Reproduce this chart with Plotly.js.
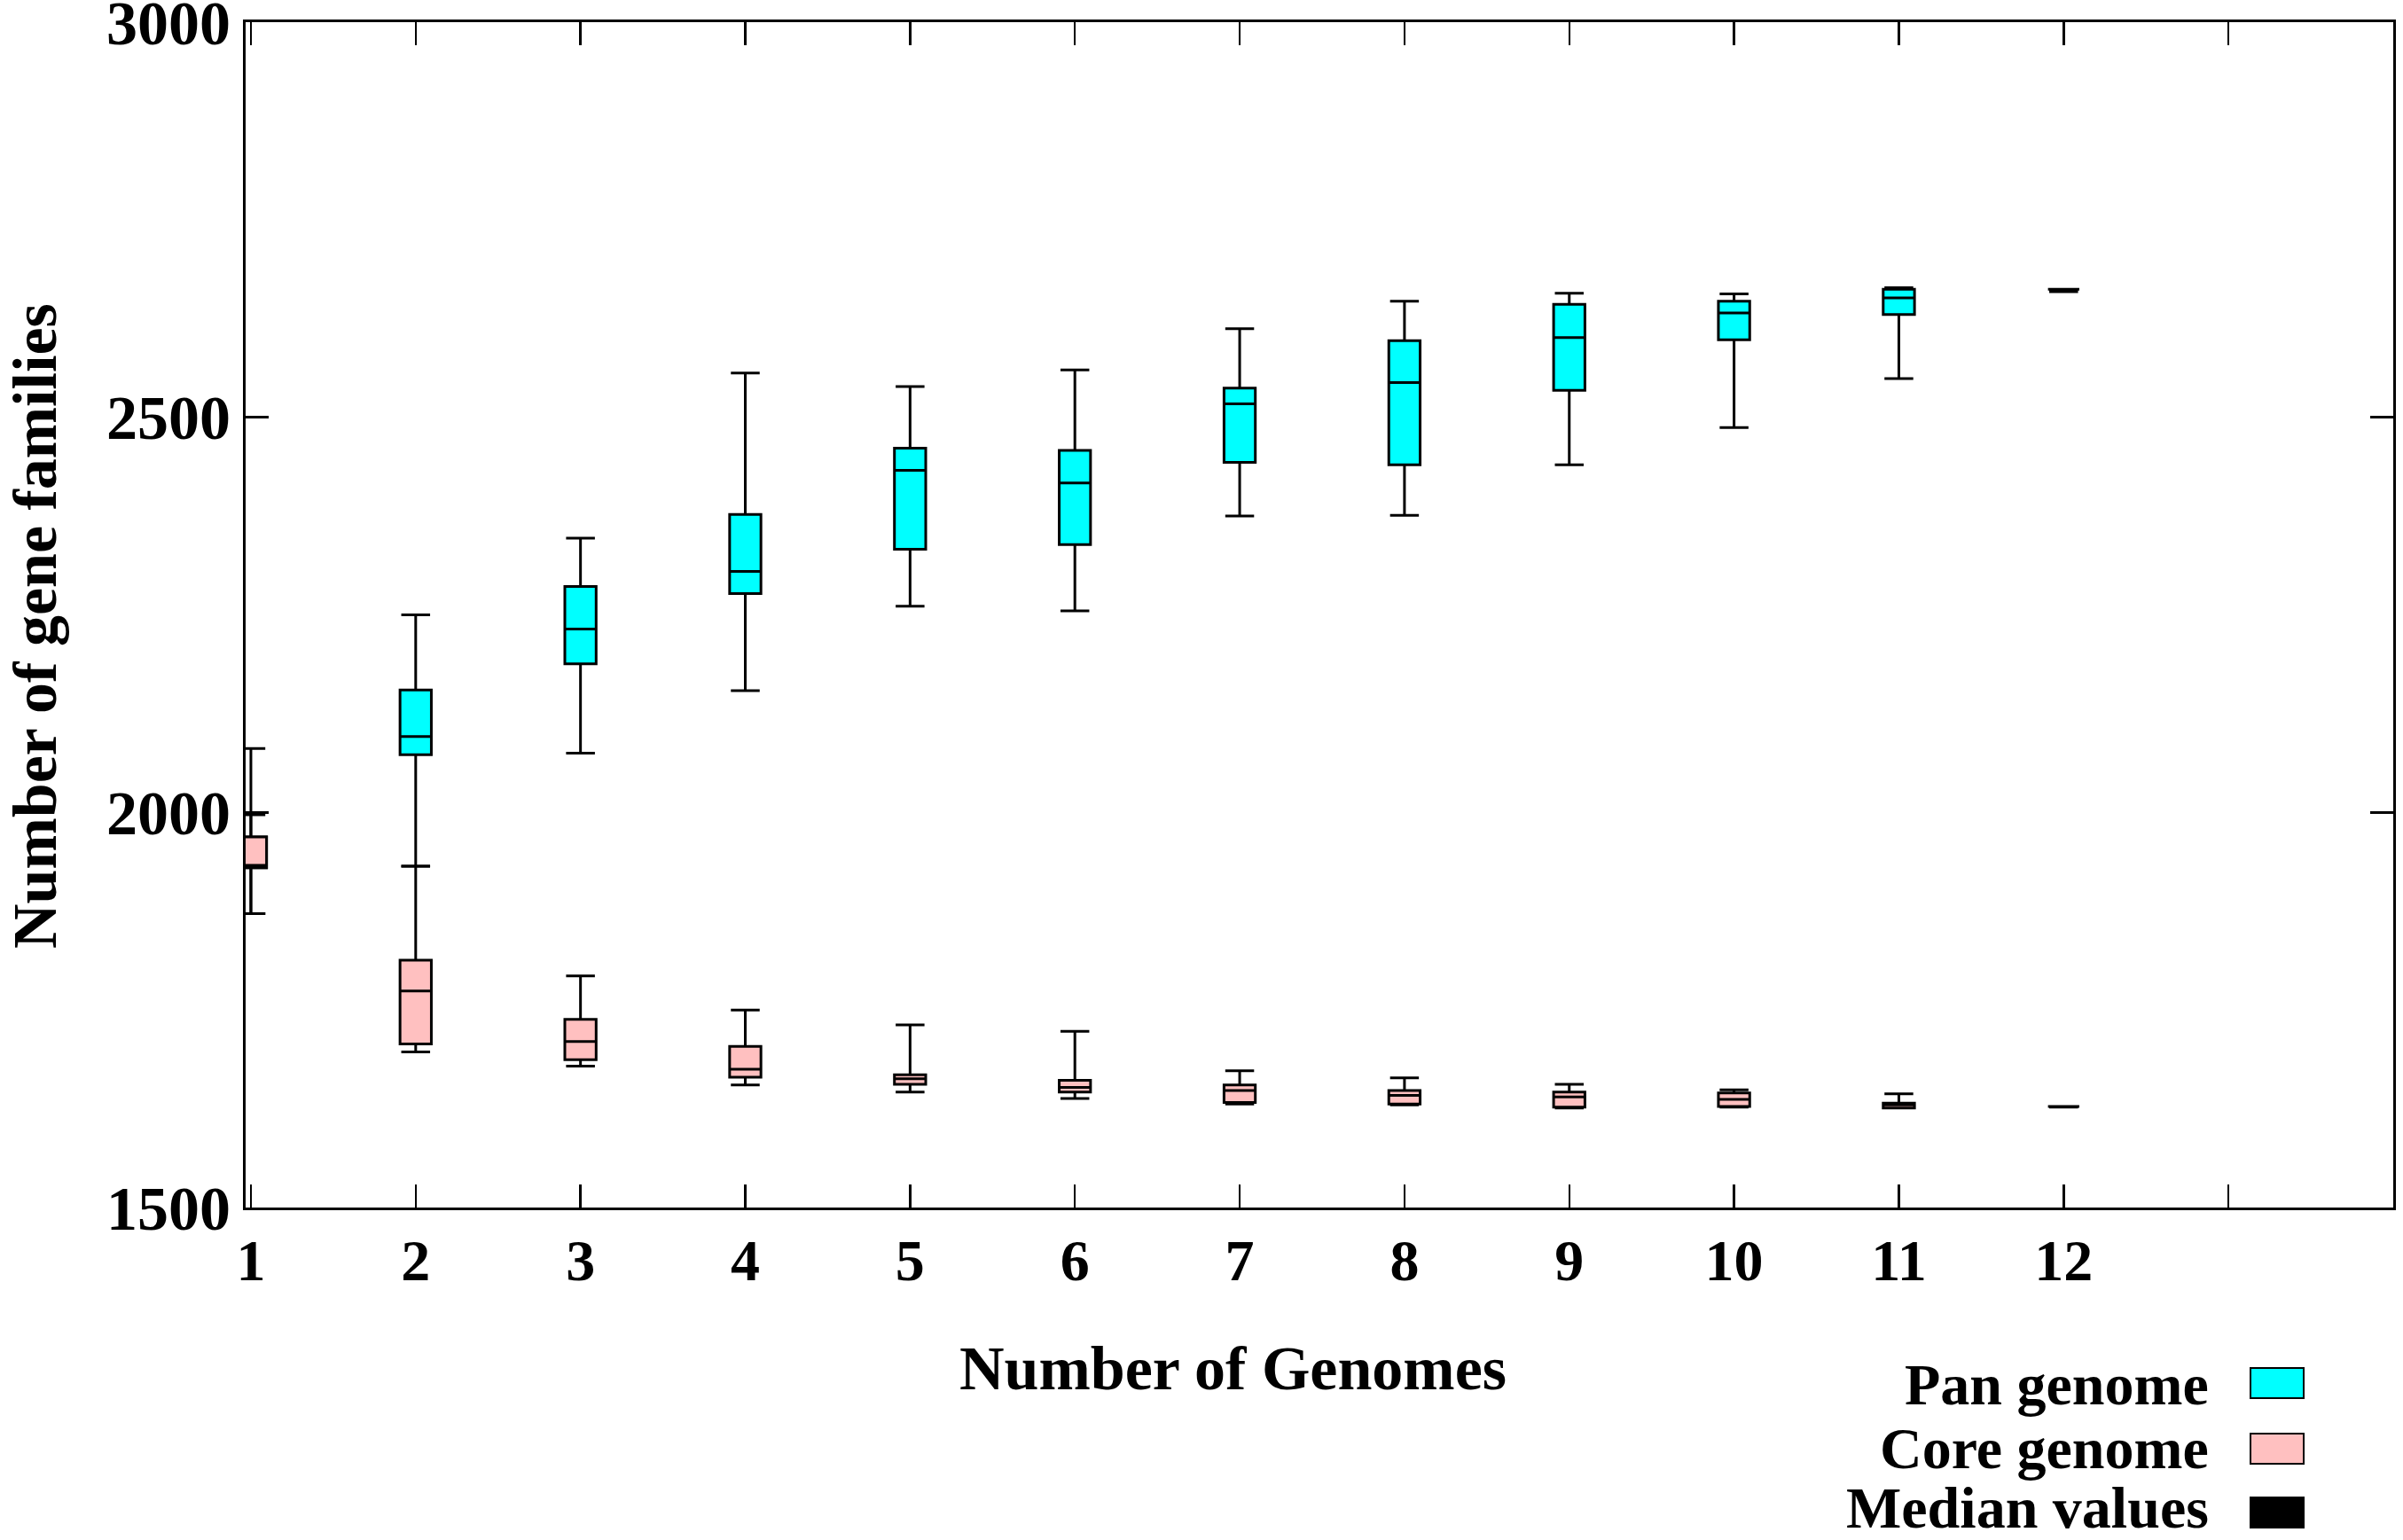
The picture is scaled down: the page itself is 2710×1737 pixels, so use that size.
<!DOCTYPE html>
<html>
<head>
<meta charset="utf-8">
<script src="https://cdn.plot.ly/plotly-3.0.1.min.js"></script>
<style>html,body{margin:0;padding:0;background:#fff;}#chart{width:2710px;height:1737px;}</style>
</head>
<body>
<div id="chart"></div>
<script>
// ---- data ----
const genomes = [1,2,3,4,5,6,7,8,9,10,11,12];

const panQ1     = [1930, 2073, 2188, 2277, 2333, 2339, 2443, 2440, 2534, 2598, 2630, 2662];
const panMedian = [1933, 2096, 2232, 2305, 2433, 2417, 2517, 2544, 2601, 2632, 2651, 2662];
const panQ3     = [1969, 2155, 2286, 2377, 2461, 2458, 2537, 2597, 2643, 2647, 2662, 2662];
const panLow    = [1872, 1932, 2075, 2154, 2261, 2255, 2375, 2376, 2440, 2487, 2549, 2659];
const panHigh   = [2081, 2250, 2347, 2556, 2539, 2560, 2612, 2647, 2657, 2656, 2664, 2662];

const coreQ1     = [1930, 1707, 1687, 1665, 1656, 1646, 1633, 1631, 1627, 1628, 1626, 1628];
const coreMedian = [1933, 1774, 1710, 1675, 1663, 1652, 1648, 1642, 1640, 1637, 1630, 1628];
const coreQ3     = [1969, 1813, 1738, 1704, 1668, 1661, 1655, 1648, 1646, 1645, 1632, 1628];
const coreLow    = [1872, 1697, 1679, 1655, 1646, 1638, 1631, 1630, 1626, 1627, 1626, 1627];
const coreHigh   = [1997, 1932, 1793, 1750, 1731, 1723, 1673, 1664, 1656, 1649, 1644, 1628];

const xTickVals  = [1,2,3,4,5,6,7,8,9,10,11,12,13];
const xTickText  = ['1','2','3','4','5','6','7','8','9','10','11','12',''];
const yTickVals  = [1500, 2000, 2500, 3000];
const yTickText  = ['1500', '2000', '2500', '3000'];

const xTitle = 'Number of Genomes';
const yTitle = 'Number of gene families';
const legendNames  = ['Pan genome', 'Core genome', 'Median values'];
const legendColors = ['#00FFFF', '#FFC0C0', '#000000'];

// ---- chart ----
const FONT = 'Liberation Serif, Times New Roman, serif';
const boxLine = {color: '#000000', width: 3};

const traces = [
  {
    type: 'box', name: 'Pan genome', x: genomes,
    q1: panQ1, median: panMedian, q3: panQ3,
    lowerfence: panLow, upperfence: panHigh,
    fillcolor: legendColors[0], line: boxLine,
    width: 0.19, whiskerwidth: 0.92, boxpoints: false,
    hoverinfo: 'skip', showlegend: false
  },
  {
    type: 'box', name: 'Core genome', x: genomes,
    q1: coreQ1, median: coreMedian, q3: coreQ3,
    lowerfence: coreLow, upperfence: coreHigh,
    fillcolor: legendColors[1], line: boxLine,
    width: 0.19, whiskerwidth: 0.92, boxpoints: false,
    hoverinfo: 'skip', showlegend: false
  }
];

const W = 2710, H = 1737;
const mL = 277, mR = 11, mT = 25, mB = 375;
const plotW = W - mL - mR, plotH = H - mT - mB;
const px = (x) => (x - mL) / plotW;
const py = (y) => (H - mB - y) / plotH;

const legendTextY   = [1561, 1633, 1700];
const legendSwatchY = [1560, 1634, 1706];
const annotations = [];
const shapes = [];
legendNames.forEach((name, i) => {
  annotations.push({
    xref: 'paper', yref: 'paper', x: px(2492), y: py(legendTextY[i]),
    xanchor: 'right', yanchor: 'middle', showarrow: false, borderpad: 0,
    text: '<b>' + name + '</b>',
    font: {family: FONT, size: 66, color: '#000'}
  });
  shapes.push({
    type: 'rect', xref: 'paper', yref: 'paper',
    x0: px(2538), x1: px(2598),
    y0: py(legendSwatchY[i] + 17), y1: py(legendSwatchY[i] - 17),
    fillcolor: legendColors[i], line: {color: '#000', width: 2}
  });
});
// axis titles (placed where the reference has them)
annotations.push({
  xref: 'paper', yref: 'paper', x: px(1390), y: py(1543),
  xanchor: 'center', yanchor: 'middle', showarrow: false,
  text: '<b>' + xTitle + '</b>',
  font: {family: FONT, size: 70, color: '#000'}
});
annotations.push({
  xref: 'paper', yref: 'paper', x: px(39), y: py(706),
  xanchor: 'center', yanchor: 'middle', showarrow: false, textangle: -90,
  borderpad: 0,
  text: '<b>' + yTitle + '</b>',
  font: {family: FONT, size: 70, color: '#000'}
});

const layout = {
  width: W, height: H,
  margin: {l: mL, r: mR, t: mT, b: mB, pad: 0},
  paper_bgcolor: '#ffffff', plot_bgcolor: '#ffffff',
  boxmode: 'overlay',
  showlegend: false,
  xaxis: {
    range: [0.968, 14], autorange: false,
    tickmode: 'array', tickvals: xTickVals, ticktext: xTickText,
    ticks: 'inside', ticklen: 26, tickwidth: 2.5, tickcolor: '#000',
    showline: true, linecolor: '#000', linewidth: 3, mirror: 'ticks',
    showgrid: false, zeroline: false,
    tickfont: {family: FONT, size: 66, color: '#000', weight: 'bold'},
    ticklabelstandoff: 0, ticklabeloverflow: 'allow'
  },
  yaxis: {
    range: [1500, 3000], autorange: false,
    tickmode: 'array', tickvals: yTickVals, ticktext: yTickText,
    ticks: 'inside', ticklen: 26, tickwidth: 2.5, tickcolor: '#000',
    showline: true, linecolor: '#000', linewidth: 3, mirror: 'ticks',
    showgrid: false, zeroline: false,
    tickfont: {family: FONT, size: 70, color: '#000', weight: 'bold'},
    ticklabelstandoff: 0, ticklabeloverflow: 'allow'
  },
  annotations: annotations,
  shapes: shapes
};

Plotly.newPlot('chart', traces, layout, {staticPlot: true, displayModeBar: false});
</script>
</body>
</html>
